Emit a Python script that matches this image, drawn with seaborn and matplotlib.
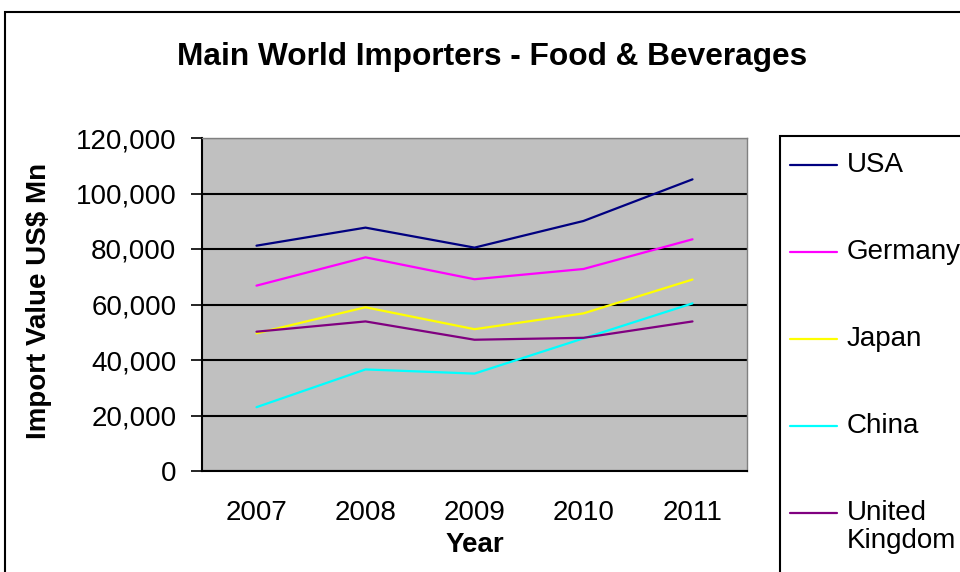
import numpy as np
import pandas as pd
import seaborn as sns
import matplotlib
matplotlib.use("Agg")
import matplotlib.pyplot as plt
from matplotlib.patches import Rectangle
from matplotlib.lines import Line2D

# ---- data ----
years = ["2007", "2008", "2009", "2010", "2011"]
countries = ["USA", "Germany", "Japan", "China", "United Kingdom"]
legend_labels = ["USA", "Germany", "Japan", "China", "United\nKingdom"]
usa = [81200, 87700, 80500, 90100, 105100]
germany = [66800, 77000, 69100, 72800, 83500]
japan = [49600, 59000, 51100, 56800, 69000]
china = [23000, 36600, 35100, 47800, 60400]
uk = [50200, 53900, 47300, 48000, 53900]
colors = ["#000080", "#FF00FF", "#FFFF00", "#00FFFF", "#800080"]
yticks = [0, 20000, 40000, 60000, 80000, 100000, 120000]
title = "Main World Importers - Food & Beverages"
xlabel = "Year"
ylabel = "Import Value US$ Mn"

series = [usa, germany, japan, china, uk]
df = pd.DataFrame({
    "Year": years * len(countries),
    "Country": np.repeat(countries, len(years)),
    "Value": sum(series, []),
})

sns.set_theme(style="white", rc={
    "text.color": "black", "axes.labelcolor": "black",
    "xtick.color": "black", "ytick.color": "black",
})
plt.rcParams["font.family"] = ["Liberation Sans", "DejaVu Sans"]

W, H = 960, 572
fig = plt.figure(figsize=(W / 100, H / 100), dpi=100)
fig.patch.set_facecolor("white")

ax = fig.add_axes([202 / W, 1 - 471 / H, 545 / W, 333 / H])
sns.lineplot(data=df, x="Year", y="Value", hue="Country",
             palette=dict(zip(countries, colors)), hue_order=countries,
             linewidth=1.6, legend=False, sort=False, ax=ax, zorder=3)

ax.set_facecolor("#C0C0C0")
ax.set_xlim(-0.5, len(years) - 0.5)
ax.set_ylim(0, 120000)
ax.set_yticks(yticks)
ax.set_yticklabels([f"{v:,}" for v in yticks], fontsize=20)
ax.yaxis.grid(True, color="black", linewidth=1.5)
ax.xaxis.grid(False)

ax.set_xticks(range(len(years)))
ax.set_xticklabels(years, fontsize=20)
ax.set_xticks(np.arange(-0.5, len(years), 1.0), minor=True)
ax.tick_params(axis="x", which="major", length=0, pad=21)
ax.tick_params(axis="x", which="minor", length=7, width=1.2, direction="out")
ax.tick_params(axis="y", which="major", length=8, width=1.2, direction="out", pad=10.5, left=True)

for s in ["left", "bottom"]:
    ax.spines[s].set_color("black")
    ax.spines[s].set_linewidth(1.5)
for s in ["top", "right"]:
    ax.spines[s].set_color("#808080")
    ax.spines[s].set_linewidth(1.0)

ax.set_xlabel(xlabel, fontsize=20, fontweight="bold", labelpad=4)
ax.set_ylabel(ylabel, fontsize=20, fontweight="bold", va="center")
ax.yaxis.set_label_coords((39 - 202) / 545, 0.51)

fig.text(492.5 / W, 1 - 65 / H, title, ha="center", va="baseline",
         fontsize=22.8, fontweight="bold")

# outer chart border (extends past right/bottom edges)
fig.add_artist(Rectangle((5 / W, -0.2), 2.0, 1.2 - 12 / H, transform=fig.transFigure,
                         fill=False, edgecolor="black", linewidth=1.5))

# legend box (extends past right/bottom edges)
fig.add_artist(Rectangle((780 / W, -0.2), 1.0, 1.2 - 136 / H, transform=fig.transFigure,
                         fill=False, edgecolor="black", linewidth=1.5))
for i, (lab, col) in enumerate(zip(legend_labels, colors)):
    yc = 165 + 87 * i
    fig.add_artist(Line2D([790 / W, 837 / W], [1 - yc / H, 1 - yc / H],
                          transform=fig.transFigure, color=col, linewidth=1.6))
    for k, line in enumerate(lab.split("\n")):
        fig.text(847 / W, 1 - (yc + 28 * k) / H, line, ha="left", va="center",
                 fontsize=20)

fig.savefig("out.png", dpi=100)
